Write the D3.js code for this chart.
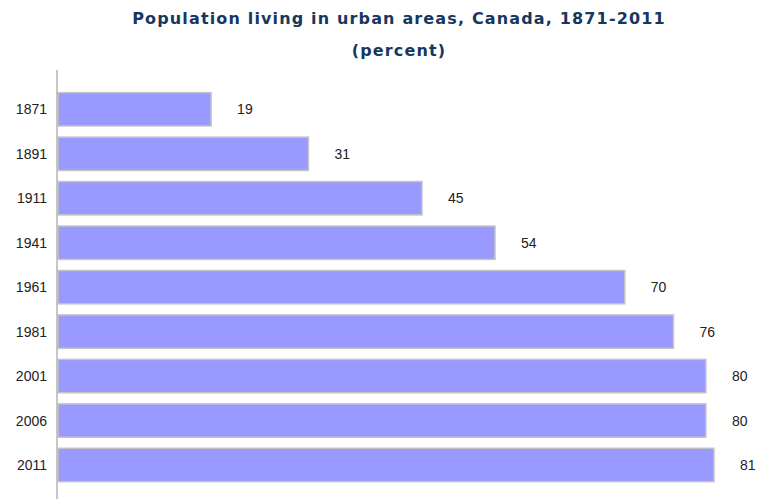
<!DOCTYPE html>
<html>
<head>
<meta charset="utf-8">
<script src="https://cdn.jsdelivr.net/npm/d3@7"></script>
<style>
  html, body { margin: 0; padding: 0; background: #fff; }
  svg { display: block; }
</style>
</head>
<body>
<svg id="chart" width="760" height="499"></svg>
<script>
// Share of Canada's population living in urban areas, by census year
const years = ["1871", "1891", "1911", "1941", "1961", "1981", "2001", "2006", "2011"];
const urbanPercent = [19, 31, 45, 54, 70, 76, 80, 80, 81];
const titleLines = ["Population living in urban areas, Canada, 1871-2011", "(percent)"];

const svg = d3.select("#chart");
const font = "'Liberation Sans', Arial, sans-serif";
const titleFont = "'DejaVu Sans', Verdana, sans-serif";

const axisX = 57;
const x = d3.scaleLinear().domain([0, 81]).range([axisX, 714]);
const y = d3.scaleBand()
  .domain(years)
  .range([87.1, 487.2])
  .paddingInner(0.25)
  .paddingOuter(0.125);

// Title
svg.selectAll("text.title")
  .data(titleLines)
  .join("text")
  .attr("class", "title")
  .attr("x", 399)
  .attr("y", (d, i) => 24 + i * 32)
  .attr("text-anchor", "middle")
  .attr("font-family", titleFont)
  .attr("font-weight", "bold")
  .attr("font-size", 16)
  .attr("letter-spacing", 1.15)
  .attr("fill", "#17375e")
  .text(d => d);

const rows = years.map((yr, i) => ({ year: yr, value: urbanPercent[i] }));

// Bars
svg.selectAll("rect.bar")
  .data(rows)
  .join("rect")
  .attr("class", "bar")
  .attr("x", x(0) + 1)
  .attr("y", d => y(d.year))
  .attr("width", d => x(d.value) - x(0) - 1)
  .attr("height", y.bandwidth())
  .attr("fill", "#9999ff")
  .attr("stroke", "#c4c4c4")
  .attr("stroke-width", 1.5);

// Vertical axis line
svg.append("line")
  .attr("x1", axisX).attr("x2", axisX)
  .attr("y1", 70).attr("y2", 499)
  .attr("stroke", "#b4b4b4")
  .attr("stroke-width", 1.5);

// Year labels
svg.selectAll("text.year")
  .data(rows)
  .join("text")
  .attr("class", "year")
  .attr("x", 47)
  .attr("y", d => y(d.year) + y.bandwidth() / 2)
  .attr("dy", "0.36em")
  .attr("text-anchor", "end")
  .attr("font-family", font)
  .attr("font-size", 14)
  .attr("fill", "#222")
  .text(d => d.year);

// Value labels
svg.selectAll("text.value")
  .data(rows)
  .join("text")
  .attr("class", "value")
  .attr("x", d => x(d.value) + 26)
  .attr("y", d => y(d.year) + y.bandwidth() / 2)
  .attr("dy", "0.36em")
  .attr("font-family", font)
  .attr("font-size", 14)
  .attr("fill", "#222")
  .text(d => d.value);
</script>
</body>
</html>
